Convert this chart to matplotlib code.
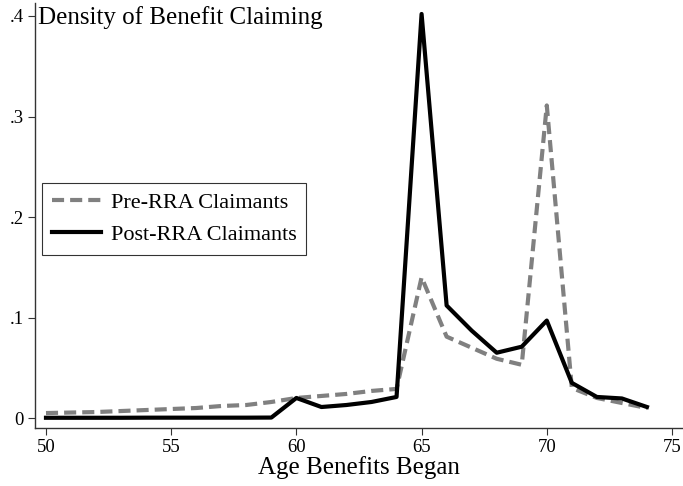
import matplotlib.pyplot as plt
from matplotlib.ticker import FixedLocator

plt.rcParams['font.family'] = ['Liberation Serif', 'DejaVu Serif']

# Data
ages = list(range(50, 75))
pre_rra = [0.005, 0.0055, 0.006, 0.007, 0.008, 0.009, 0.010, 0.012, 0.013, 0.016,
           0.020, 0.022, 0.024, 0.027, 0.029, 0.140, 0.081, 0.070, 0.059, 0.053,
           0.311, 0.030, 0.020, 0.015, 0.010]
post_rra = [0.0003, 0.0003, 0.0003, 0.0003, 0.0004, 0.0004, 0.0004, 0.0004, 0.0004, 0.0005,
            0.020, 0.011, 0.013, 0.016, 0.021, 0.402, 0.112, 0.087, 0.065, 0.071,
            0.097, 0.035, 0.021, 0.0195, 0.011]
xticks = [50, 55, 60, 65, 70, 75]
yticks = [0, 0.1, 0.2, 0.3, 0.4]
ytick_labels = ['0', '.1', '.2', '.3', '.4']

fig = plt.figure(figsize=(6.83, 4.86), dpi=100)
ax = fig.add_axes([0.0512, 0.1193, 0.9488, 0.8745])

ax.plot(ages, pre_rra, color='#808080', lw=3.0, dashes=(2.9, 1.45), label='Pre-RRA Claimants')
ax.plot(ages, post_rra, color='black', lw=3.0, label='Post-RRA Claimants')

ax.set_xlim(49.56, 75.44)
ax.set_ylim(-0.0099, 0.4129)
ax.xaxis.set_major_locator(FixedLocator(xticks))
ax.set_yticks(yticks)
ax.set_yticklabels(ytick_labels)
ax.tick_params(labelsize=13.5, length=5, width=0.8, color='#333333', pad=3)

for s in ['top', 'right']:
    ax.spines[s].set_visible(False)
for s in ['left', 'bottom']:
    ax.spines[s].set_linewidth(1.0)
    ax.spines[s].set_color('#333333')

ax.set_xlabel('Age Benefits Began', fontsize=18, labelpad=0)
ax.text(0.004, 0.993, 'Density of Benefit Claiming', transform=ax.transAxes,
        fontsize=18, va='top', ha='left')

leg = ax.legend(loc='upper left', bbox_to_anchor=(0.0, 0.593), fontsize=16,
                frameon=True, fancybox=False, edgecolor='black', handlelength=2.2,
                handletextpad=0.45, borderpad=0.45, labelspacing=0.5,
                borderaxespad=0.3)
leg.get_frame().set_linewidth(0.8)

fig.savefig('out.png', dpi=100)
